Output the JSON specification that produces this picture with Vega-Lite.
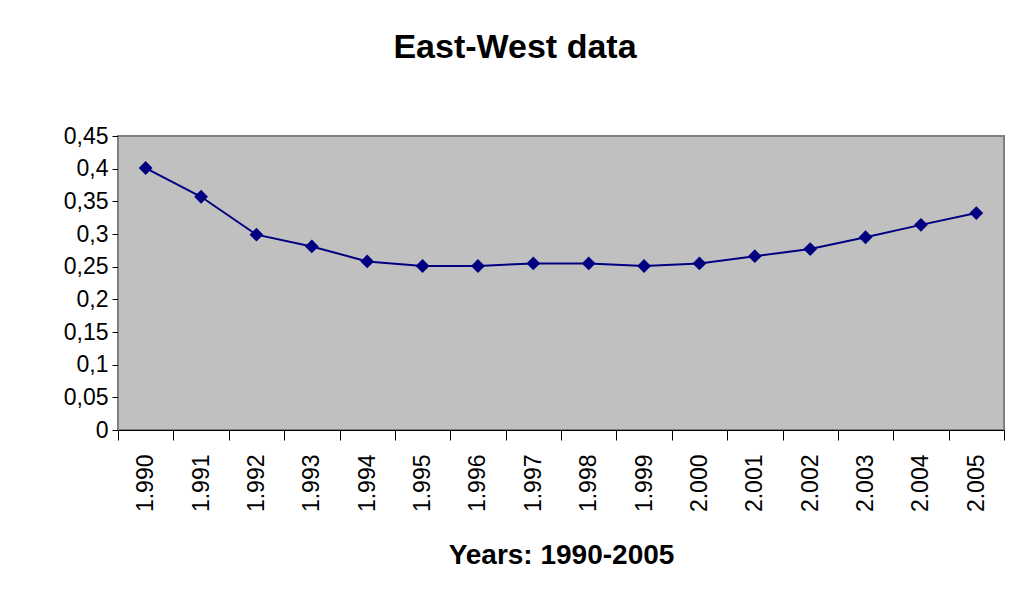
{
  "$schema": "https://vega.github.io/schema/vega-lite/v6.json",
  "autosize": "none",
  "width": 886,
  "height": 294,
  "padding": {"left": 118, "top": 136, "right": 9, "bottom": 178},
  "background": "white",
  "config": {
    "font": "Liberation Sans",
    "view": {"fill": "#C0C0C0", "stroke": "#808080", "strokeWidth": 2}
  },
  "title": {
    "text": "East-West data",
    "fontSize": 34,
    "fontWeight": "bold",
    "font": "Liberation Sans",
    "color": "#000000",
    "anchor": "middle",
    "dx": -46,
    "offset": 60
  },
  "data": {
    "values": [
      {"year": 1990, "value": 0.401},
      {"year": 1991, "value": 0.357},
      {"year": 1992, "value": 0.299},
      {"year": 1993, "value": 0.281},
      {"year": 1994, "value": 0.258},
      {"year": 1995, "value": 0.251},
      {"year": 1996, "value": 0.251},
      {"year": 1997, "value": 0.255},
      {"year": 1998, "value": 0.255},
      {"year": 1999, "value": 0.251},
      {"year": 2000, "value": 0.255},
      {"year": 2001, "value": 0.266},
      {"year": 2002, "value": 0.277},
      {"year": 2003, "value": 0.295},
      {"year": 2004, "value": 0.314},
      {"year": 2005, "value": 0.332}
    ]
  },
  "encoding": {
    "x": {
      "field": "year",
      "type": "ordinal",
      "scale": {"paddingInner": 0, "paddingOuter": 0},
      "axis": {
        "title": "Years: 1990-2005",
        "titleFontSize": 28,
        "titleFontWeight": "bold",
        "titleColor": "#000000",
        "titlePadding": 30,
        "labelAngle": -90,
        "labelFontSize": 23,
        "labelColor": "#000000",
        "labelPadding": 14,
        "labelExpr": "isNumber(datum.value) ? replace(format(datum.value, ','), ',', '.') : ''",
        "tickBand": "extent",
        "tickSize": 10,
        "tickColor": "#000000",
        "domainColor": "#000000",
        "domainWidth": 1,
        "grid": false
      }
    },
    "y": {
      "field": "value",
      "type": "quantitative",
      "scale": {"domain": [0, 0.45], "nice": false},
      "axis": {
        "title": null,
        "values": [0, 0.05, 0.1, 0.15, 0.2, 0.25, 0.3, 0.35, 0.4, 0.45],
        "labelExpr": "replace(format(datum.value, '.2~f'), '.', ',')",
        "labelFontSize": 23,
        "labelColor": "#000000",
        "labelPadding": 4,
        "tickSize": 6,
        "tickColor": "#000000",
        "domainColor": "#808080",
        "grid": false
      }
    }
  },
  "layer": [
    {"mark": {"type": "line", "color": "#000080", "strokeWidth": 2}},
    {"mark": {"type": "point", "shape": "diamond", "filled": true, "color": "#000080", "opacity": 1, "size": 190}}
  ]
}
